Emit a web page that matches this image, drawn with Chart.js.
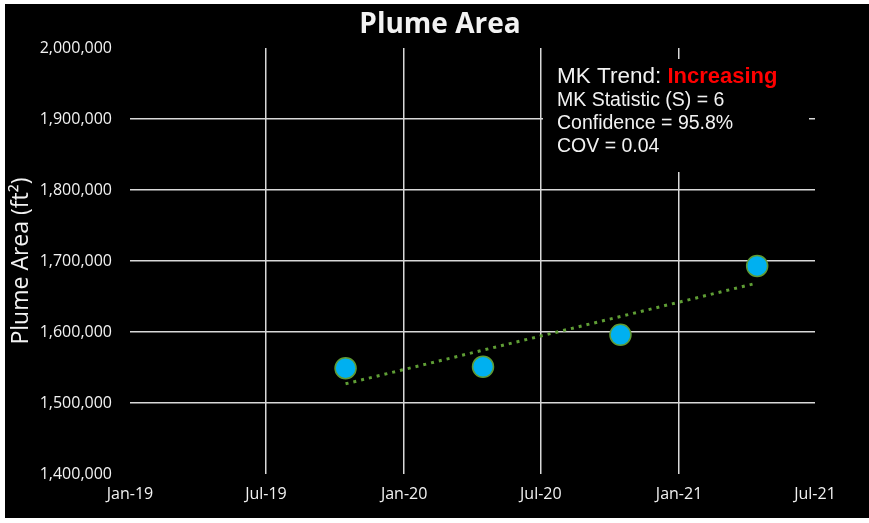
<!DOCTYPE html>
<html>
<head>
<meta charset="utf-8">
<script src="https://cdn.jsdelivr.net/npm/chart.js@4.4.1/dist/chart.umd.min.js"></script>
<style>
  html, body { margin: 0; padding: 0; background: #ffffff; }
  #wrap { position: absolute; left: 5px; top: 4px; width: 864px; height: 514px; background: #000000; }
</style>
</head>
<body>
<div id="wrap"><canvas id="plumeChart"></canvas></div>
<script>
// PLUME AREA – Mann-Kendall trend chart
// =============================================================================

const xTickDates = ["2019-01-01", "2019-07-01", "2020-01-01", "2020-07-01", "2021-01-01", "2021-07-01"];
const xTickLabels = ["Jan-19", "Jul-19", "Jan-20", "Jul-20", "Jan-21", "Jul-21"];

const sampleDates = ["2019-10-15", "2020-04-15", "2020-10-15", "2021-04-15"];
const plumeArea = [1549000, 1551000, 1596000, 1693000];

const trendDates = ["2019-10-15", "2021-04-15"];
const trendArea = [1527000, 1669000];

const yMin = 1400000;
const yMax = 2000000;
const yStep = 100000;

const chartTitle = "Plume Area";
const statsLines = ["MK Statistic (S) = 6", "Confidence = 95.8%", "COV = 0.04"];
const trendLabel = "MK Trend: ";
const trendResult = "Increasing";

const toPoints = (dates, values) => dates.map((d, i) => ({ x: Date.parse(d), y: values[i] }));

const GRID = "#d9d9d9";
const TEXT = "#f2f2f2";
const FONT = "'Open Sans', 'Noto Sans', sans-serif";
const ARIAL = "'Liberation Sans', Arial, sans-serif";

// hide grid lines on the outer ticks (plot has no border)
const innerGrid = (ctx) => {
  const n = ctx.scale.ticks.length;
  return ctx.index === 0 || ctx.index === n - 1 ? "rgba(0,0,0,0)" : GRID;
};

// title centred on the whole canvas + MK statistics box over the grid
const overlay = {
  id: "overlay",
  afterDraw(chart) {
    const c = chart.ctx;
    c.save();
    c.textBaseline = "middle";
    c.textAlign = "center";
    c.font = `bold 28px ${FONT}`;
    c.fillStyle = TEXT;
    c.fillText(chartTitle, 435, 21);

    c.fillStyle = "#000000";
    c.fillRect(538, 55, 266, 113);

    c.textAlign = "left";
    c.font = `22.5px ${ARIAL}`;
    c.fillStyle = TEXT;
    c.fillText(trendLabel, 552, 73);
    const w = c.measureText(trendLabel).width;
    c.font = `bold 22px ${ARIAL}`;
    c.fillStyle = "#ff0000";
    c.fillText(trendResult, 552 + w, 73);

    c.font = `19.5px ${ARIAL}`;
    c.fillStyle = TEXT;
    statsLines.forEach((line, i) => {
      c.fillText(line, 552, 97 + i * 23);
    });
    c.restore();
  },
};

const chart = new Chart(document.getElementById("plumeChart"), {
  type: "scatter",
  data: {
    datasets: [
      {
        label: "Plume Area",
        data: toPoints(sampleDates, plumeArea),
        backgroundColor: "#00b0f0",
        borderColor: "#5f9b35",
        borderWidth: 1.5,
        pointRadius: 10.5,
        pointHoverRadius: 10.5,
        order: 0,
      },
      {
        label: "Trend",
        data: toPoints(trendDates, trendArea),
        showLine: true,
        pointRadius: 0,
        borderColor: "#5f9e35",
        borderWidth: 3,
        borderDash: [3, 5],
        order: 1,
      },
    ],
  },
  options: {
    responsive: true,
    maintainAspectRatio: false,
    animation: false,
    layout: { padding: { top: 44, right: 54, bottom: 0, left: 0 } },
    plugins: {
      legend: { display: false },
      tooltip: { enabled: false },
      title: { display: false },
    },
    scales: {
      x: {
        type: "linear",
        min: Date.parse(xTickDates[0]),
        max: Date.parse(xTickDates[xTickDates.length - 1]),
        afterBuildTicks: (scale) => {
          scale.ticks = xTickDates.map((d) => ({ value: Date.parse(d) }));
        },
        afterFit: (scale) => { scale.height = 44; },
        grid: { color: innerGrid, lineWidth: 1.5, drawTicks: false },
        border: { display: false },
        ticks: {
          color: TEXT,
          padding: 11,
          maxRotation: 0,
          autoSkip: false,
          font: { family: FONT, size: 16 },
          callback: (v, i) => xTickLabels[i],
        },
      },
      y: {
        min: yMin,
        max: yMax,
        afterFit: (scale) => { scale.width = 125; },
        grid: { color: innerGrid, lineWidth: 1.5, drawTicks: false },
        border: { display: false },
        ticks: {
          stepSize: yStep,
          color: TEXT,
          padding: 18,
          font: { family: FONT, size: 16 },
          callback: (v) => Number(v).toLocaleString("en-US"),
        },
        title: {
          display: true,
          text: "Plume Area (ft²)",
          color: TEXT,
          font: { family: FONT, size: 23 },
          padding: { top: 3, bottom: 0 },
        },
      },
    },
  },
  plugins: [overlay],
});

// =============================================================================
</script>
</body>
</html>
